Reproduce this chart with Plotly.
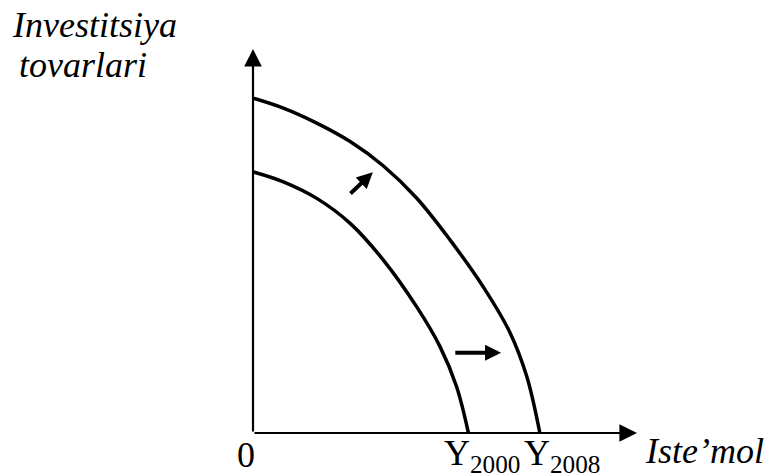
import plotly.graph_objects as go

# Production possibilities frontiers (consumption vs. investment goods)
ppf_2000_x = [0.00, 0.79, 1.66, 2.53, 3.39, 4.26, 4.87, 5.30, 5.61]
ppf_2000_y = [6.80, 6.54, 6.11, 5.46, 4.51, 3.29, 2.25, 1.21, 0.00]

ppf_2008_x = [0.00, 0.79, 1.66, 2.53, 3.39, 4.26, 5.13, 6.00, 6.69, 7.13, 7.47]
ppf_2008_y = [8.72, 8.46, 8.07, 7.59, 6.96, 6.12, 5.03, 3.80, 2.62, 1.47, 0.00]

# Shift arrows: (start x, start y, end x, end y)
shift_up = [2.50, 6.20, 3.12, 6.79]
shift_right = [5.23, 2.09, 6.46, 2.09]

axis_max = 10
serif = "Liberation Serif"

fig = go.Figure()
for xs, ys in [(ppf_2000_x, ppf_2000_y), (ppf_2008_x, ppf_2008_y)]:
    fig.add_trace(go.Scatter(x=xs, y=ys, mode="lines",
                             line=dict(color="black", width=3.5, shape="spline", smoothing=1.0),
                             hoverinfo="skip", showlegend=False))

def arrow(x0, y0, x1, y1, width, size):
    fig.add_annotation(x=x1, y=y1, ax=x0, ay=y0, xref="x", yref="y", axref="x", ayref="y",
                       showarrow=True, arrowhead=2, arrowwidth=width, arrowsize=size,
                       arrowcolor="black", text="", standoff=0, startstandoff=0)

# Axes with arrowheads
arrow(0, 0, axis_max, 0, 2.2, 1.6)
arrow(0, 0, 0, axis_max, 2.2, 1.6)
# Shift arrows
arrow(*shift_up, 4, 0.8)
arrow(*shift_right, 4, 0.8)

def label(text, x, y, xanchor="left", italic=True, yanchor="middle"):
    # positions given in axis units; placed in paper space so they may sit outside the plot
    fig.add_annotation(x=x / axis_max, y=y / axis_max, xref="paper", yref="paper",
                       text=text, showarrow=False, xanchor=xanchor, yanchor=yanchor,
                       font=dict(family=serif, size=36, color="black",
                                 style="italic" if italic else "normal"))

label("Investitsiya", -6.33, 10.62)
label("tovarlari", -6.15, 9.58)
label("Iste\u2019mol", 10.15, -0.47)
label("0", -0.18, -0.58, xanchor="center", italic=False)
label("Y<sub>2000</sub>", ppf_2000_x[-1] - 0.70, -0.58, italic=False)
label("Y<sub>2008</sub>", ppf_2008_x[-1] - 0.46, -0.58, italic=False)

fig.update_xaxes(range=[0, axis_max], visible=False, fixedrange=True)
fig.update_yaxes(range=[0, axis_max], visible=False, fixedrange=True)
fig.update_layout(width=773, height=473, margin=dict(l=253, r=136, t=49, b=40),
                  plot_bgcolor="white", paper_bgcolor="white")

fig.write_html("out.html", config={"displayModeBar": False})
